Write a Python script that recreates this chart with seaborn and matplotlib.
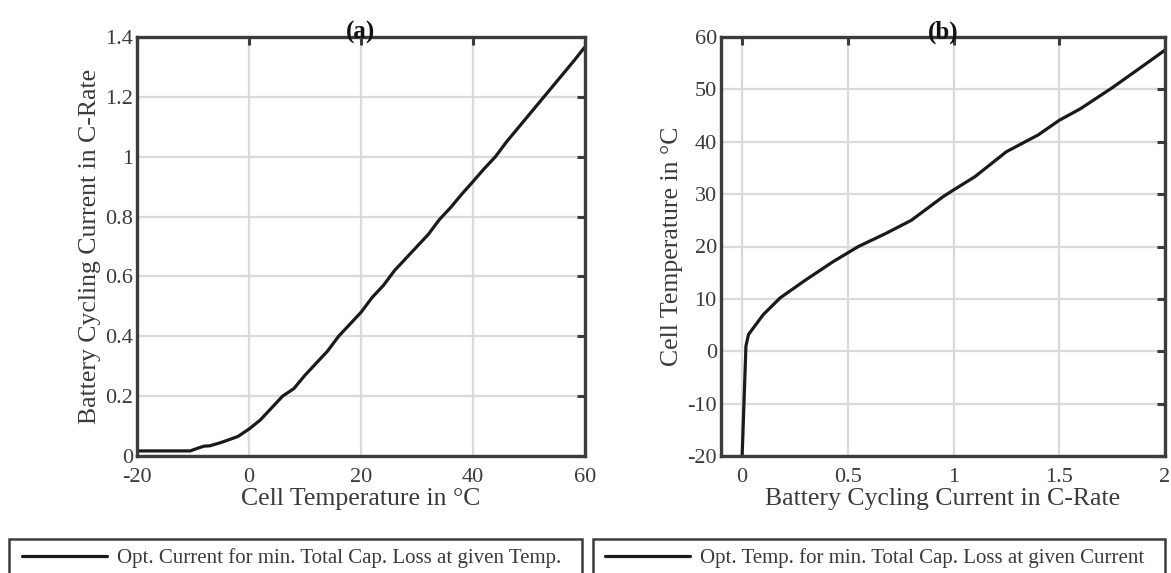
import numpy as np
import pandas as pd
import matplotlib
matplotlib.use("Agg")
import matplotlib.pyplot as plt
from matplotlib.patches import Rectangle
import seaborn as sns

# ---- data ----
temp_a = [-20, -10.5, -9, -8, -7, -5, -2, 0, 2, 4, 6, 8, 10, 12, 14, 16, 18, 20,
          22, 24, 26, 28, 30, 32, 34, 36, 38, 40, 42, 44, 46, 48, 50, 52, 54, 56, 58, 60]
current_a = [0.017, 0.017, 0.027, 0.033, 0.034, 0.045, 0.065, 0.09, 0.12, 0.16, 0.20, 0.225,
             0.27, 0.31, 0.35, 0.40, 0.44, 0.48, 0.53, 0.57, 0.62, 0.66, 0.70, 0.74, 0.79,
             0.83, 0.875, 0.917, 0.96, 1.00, 1.05, 1.095, 1.14, 1.185, 1.23, 1.275, 1.32, 1.367]

current_b = [0.0, 0.018, 0.03, 0.1, 0.18, 0.3, 0.43, 0.55, 0.68, 0.8, 0.95, 1.0, 1.1,
             1.25, 1.4, 1.5, 1.6, 1.75, 1.9, 2.0]
temp_b = [-20, 1.0, 3.2, 7.0, 10.2, 13.6, 17.1, 20.0, 22.5, 25.0, 29.5, 30.8, 33.3,
          38.1, 41.3, 44.1, 46.3, 50.3, 54.6, 57.5]

xticks_a = [-20, 0, 20, 40, 60]
yticks_a = [0, 0.2, 0.4, 0.6, 0.8, 1, 1.2, 1.4]
xticks_b = [0, 0.5, 1, 1.5, 2]
yticks_b = [-20, -10, 0, 10, 20, 30, 40, 50, 60]

label_a = "Opt. Current for min. Total Cap. Loss at given Temp."
label_b = "Opt. Temp. for min. Total Cap. Loss at given Current"

# ---- style ----
sns.set_theme(style="white")
plt.rcParams['font.family'] = ['Liberation Serif', 'DejaVu Serif']
plt.rcParams['mathtext.fontset'] = 'stix'

spine_c = "#3c3c3c"
text_c = "#3a3a3a"
line_c = "#1a1a1a"
grid_c = "#dadada"

W, H = 1171, 573
fig = plt.figure(figsize=(W / 100, H / 100), dpi=100)
ax1 = fig.add_axes([137 / W, 1 - 456 / H, 448 / W, 419 / H])
ax2 = fig.add_axes([721 / W, 1 - 456 / H, 444 / W, 419 / H])

df_a = pd.DataFrame({"T": temp_a, "I": current_a})
df_b = pd.DataFrame({"I": current_b, "T": temp_b})

sns.lineplot(data=df_a, x="T", y="I", ax=ax1, color=line_c, lw=2.3, label=label_a,
             sort=False, estimator=None, legend=False)
sns.lineplot(data=df_b, x="I", y="T", ax=ax2, color=line_c, lw=2.3, label=label_b,
             sort=False, estimator=None, legend=False)

def style(ax, xt, yt, xl, yl, xlab, ylab, title):
    ax.set_xlim(*xl)
    ax.set_ylim(*yl)
    ax.set_xticks(xt)
    ax.set_yticks(yt)
    ax.set_xticklabels([f"{v:g}" for v in xt])
    ax.set_yticklabels([f"{v:g}" for v in yt])
    ax.grid(True, color=grid_c, lw=1.6)
    ax.set_axisbelow(True)
    for s in ax.spines.values():
        s.set_color(spine_c)
        s.set_linewidth(2.4)
    ax.tick_params(direction="in", length=6, width=2.2, color=spine_c,
                   top=True, right=True, labelsize=16, labelcolor=text_c)
    ax.tick_params(axis="x", pad=9)
    ax.tick_params(axis="y", pad=3)
    ax.set_xlabel(xlab, fontsize=18.5, color=text_c, labelpad=0)
    ax.set_ylabel(ylab, fontsize=18.5, color=text_c, labelpad=3)
    ax.set_title(title, fontsize=18, fontweight="bold", color="#111111", pad=-1)

style(ax1, xticks_a, yticks_a, (-20, 60), (0, 1.4),
      "Cell Temperature in °C", "Battery Cycling Current in C-Rate", "(a)")
style(ax2, xticks_b, yticks_b, (-0.1, 2), (-20, 60),
      "Battery Cycling Current in C-Rate", "Cell Temperature in °C", "(b)")

# legend boxes (extend past bottom edge as in reference)
for x0, x1 in [(9, 582), (593, 1165)]:
    fig.add_artist(Rectangle((x0 / W, -0.1), (x1 - x0) / W, 0.1 + (1 - 539 / H),
                             transform=fig.transFigure, fill=False,
                             edgecolor=spine_c, lw=1.8, clip_on=False))

h1, l1 = ax1.get_legend_handles_labels()
h2, l2 = ax2.get_legend_handles_labels()
for h, l, x in [(h1, l1, 22), (h2, l2, 605)]:
    fig.legend(h, l, loc="center left", bbox_to_anchor=(x / W, 1 - 558 / H), frameon=False,
               fontsize=15, handlelength=4.1, handletextpad=0.48, labelcolor=text_c,
               borderaxespad=0, borderpad=0)

fig.savefig("out.png", dpi=100)
